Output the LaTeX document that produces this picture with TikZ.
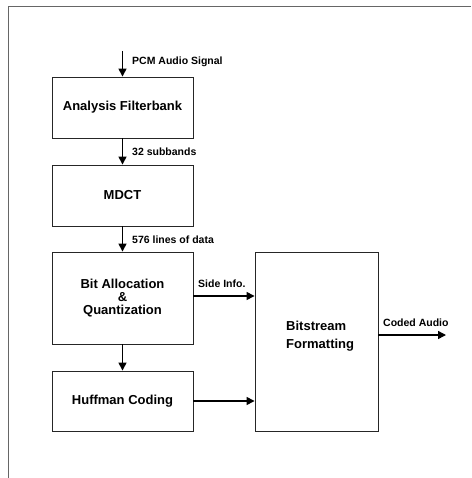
\documentclass[tikz,border=0pt]{standalone}
\usepackage{fontspec}
\setmainfont{Liberation Sans}
\usetikzlibrary{arrows.meta,calc}
\begin{document}
\begin{tikzpicture}[x=1pt,y=1pt,
  blk/.style={draw=black!85,line width=0.9pt,minimum width=141pt,inner sep=0pt,font=\fontsize{13}{14}\selectfont\bfseries,align=center},
  lbl/.style={anchor=west,inner sep=0pt,font=\fontsize{10.5}{12}\selectfont\bfseries},
  arr/.style={line width=1.4pt,-{Triangle[length=8pt,width=8pt]}}]
\useasboundingbox (0,0) rectangle (471,-478);
\draw[black!60,line width=1pt] (8,-478) -- (8,-7) -- (471,-7);
\node[blk,minimum height=61pt] (af) at (122.5,-107.5) {Analysis Filterbank};
\node[blk,minimum height=61pt] (md) at (122.5,-195.5) {MDCT};
\node[blk,minimum height=92pt,font=\fontsize{13}{13}\selectfont\bfseries] (ba) at (122.5,-298) {Bit Allocation\\\&\\Quantization};
\node[blk,minimum height=60pt] (hc) at (122.5,-401) {Huffman Coding};
\node[blk,minimum width=123pt,minimum height=179pt] (bs) at (316.5,-341.5) {};
\node[anchor=west,inner sep=0pt,align=left,font=\fontsize{13}{18}\selectfont\bfseries] (bst) at (286,-336) {Bitstream\\Formatting};
\coordinate (in) at (122.5,-51);
\coordinate (out) at (446,-335);
\coordinate (si) at ($(ba.east)+(0,2)$);
\draw[arr] (in) -- (af.north);
\draw[arr] (af.south) -- (md.north);
\draw[arr] (md.south) -- (ba.north);
\draw[arr] (ba.south) -- (hc.north);
\draw[arr] (si) -- (si -| bs.west);
\draw[arr] (hc.east) -- (hc.east -| bs.west);
\draw[arr] (bs.east |- out) -- (out);
\node[lbl] (l1) at (132,-62) {PCM Audio Signal};
\node[lbl] (l2) at (132,-152) {32 subbands};
\node[lbl] (l3) at (132,-240) {576 lines of data};
\node[lbl] (l4) at (198,-284) {Side Info.};
\node[lbl] (l5) at (383,-323) {Coded Audio};
\end{tikzpicture}
\end{document}
